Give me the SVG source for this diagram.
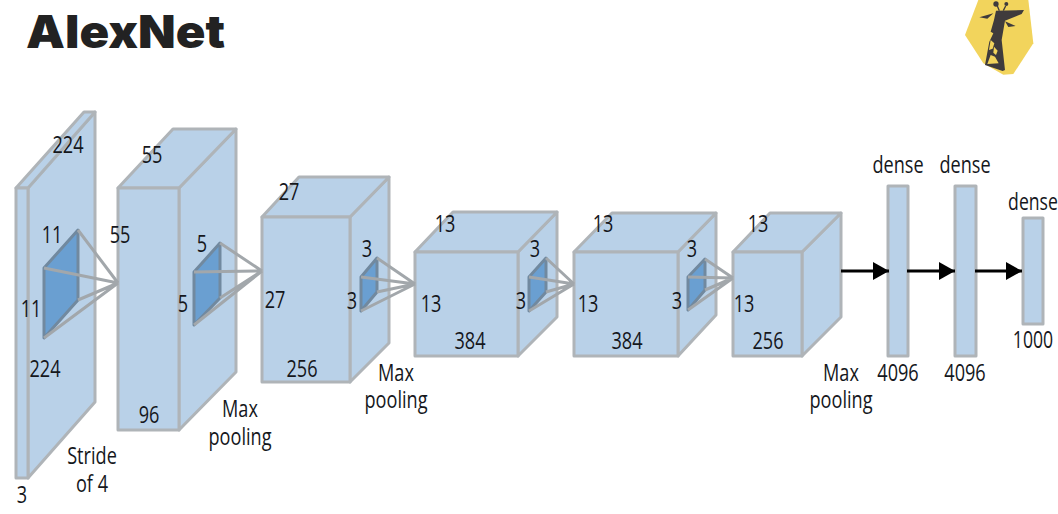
<svg xmlns="http://www.w3.org/2000/svg" width="1058" height="514" viewBox="0 0 1058 514">
<style>
text{font-family:"Open Sans","Noto Sans","Liberation Sans",sans-serif;font-size:24.5px;fill:#15171c;text-anchor:middle}
#title{font-family:Inter,"Liberation Sans",sans-serif;font-size:46px;font-weight:900;fill:#222;text-anchor:start}
.f,.t,.s{fill:#b9d1e8;stroke:#afb4b8;stroke-width:3;stroke-linejoin:round}
.k{fill:#6a9fd1;stroke:#71899f;stroke-width:3;stroke-linejoin:round}
.r{stroke:#a2a7ab;stroke-width:3;fill:none}
.a{stroke:#000;stroke-width:3;fill:none;marker-end:url(#h)}
</style>
<defs>
<marker id="h" markerUnits="userSpaceOnUse" markerWidth="17" markerHeight="20" refX="16" refY="10" orient="auto"><path d="M0 1L16 10L0 19Z" fill="#000"/></marker>
</defs>
<rect width="1058" height="514" fill="#fff"/>
<text id="title" x="26" y="48" textLength="199" lengthAdjust="spacingAndGlyphs">AlexNet</text>
<g id="logo" transform="translate(950 0) scale(.3333)">
<path d="M85 0L235 0L250 130L190 222L160 224L100 190L45 105Z" fill="#f2d45c"/>
<path d="M138 32L222 30L215 42L165 62L155 120L165 210L158 213L105 195L118 125L130 100L122 95L132 60Z" fill="#3f3b3c"/>
<path d="M88 52L130 40L112 56ZM165 64L197 78L175 81Z" fill="#3f3b3c"/>
<circle cx="138" cy="12" r="8" fill="#3f3b3c"/><circle cx="169" cy="12" r="6" fill="#3f3b3c"/>
<path d="M142 18L148 32M167 18L160 32" stroke="#3f3b3c" stroke-width="4"/>
<path d="M122 120L133 130L128 146L117 150ZM132 140L143 152L138 165L130 158ZM122 165L135 170L146 190L112 192Z" fill="#f2d45c"/>
</g>
<g id="layer1">
<path class="s" d="M28 188L95 112V402L28 478Z"/>
<path class="t" d="M16 188L84 112H95L28 188Z"/>
<path d="M28 188L92 116" stroke="#a9b2b8" stroke-width="1.5" fill="none"/>
<rect class="f" x="16" y="188" width="12" height="290"/>
<path class="k" d="M44 268L78 230V300L44 338Z"/>
<text transform="translate(68 153) scale(.74 1)">224</text>
<text transform="translate(52 243) scale(.74 1)">11</text>
<text transform="translate(31 317) scale(.74 1)">11</text>
<text transform="translate(45 377) scale(.74 1)">224</text>
<text transform="translate(22 503) scale(.74 1)">3</text>
<text transform="translate(92 464) scale(.74 1)"><tspan x="0">Stride</tspan><tspan x="0" dy="28">of 4</tspan></text>
</g>
<g id="layer2">
<path class="s" d="M179 188L236 129V372L179 430Z"/>
<path class="t" d="M118 188L173 129H236L179 188Z"/>
<rect class="f" x="118" y="188" width="61" height="242"/>
<path class="k" d="M194 272L220 243V298L194 325Z"/>
<text transform="translate(152 163) scale(.74 1)">55</text>
<text transform="translate(120 243) scale(.74 1)">55</text>
<text transform="translate(149 423) scale(.74 1)">96</text>
<text transform="translate(202 252) scale(.74 1)">5</text>
<text transform="translate(183 312) scale(.74 1)">5</text>
<text transform="translate(240 417) scale(.74 1)"><tspan x="0">Max</tspan><tspan x="0" dy="28">pooling</tspan></text>
</g>
<g id="layer3">
<path class="s" d="M350 217L389 177V343L350 382Z"/>
<path class="t" d="M262 217L299 177H389L350 217Z"/>
<rect class="f" x="262" y="217" width="88" height="165"/>
<path class="k" d="M361 277L377 258V292L361 311Z"/>
<text transform="translate(289 200) scale(.74 1)">27</text>
<text transform="translate(275 308) scale(.74 1)">27</text>
<text transform="translate(302 377) scale(.74 1)">256</text>
<text transform="translate(367 257) scale(.74 1)">3</text>
<text transform="translate(352 309) scale(.74 1)">3</text>
<text transform="translate(396 381) scale(.74 1)"><tspan x="0">Max</tspan><tspan x="0" dy="27">pooling</tspan></text>
</g>
<g id="layer4">
<path class="s" d="M518 252L557 212V317L518 356Z"/>
<path class="t" d="M415 252L453 212H557L518 252Z"/>
<rect class="f" x="415" y="252" width="103" height="104"/>
<path class="k" d="M529 277L546 258V292L529 311Z"/>
<text transform="translate(445 232) scale(.74 1)">13</text>
<text transform="translate(431 312) scale(.74 1)">13</text>
<text transform="translate(470 349) scale(.74 1)">384</text>
<text transform="translate(535 257) scale(.74 1)">3</text>
<text transform="translate(521 309) scale(.74 1)">3</text>
</g>
<g id="layer5">
<path class="s" d="M678 252L716 213V315L678 356Z"/>
<path class="t" d="M574 252L612 213H716L678 252Z"/>
<rect class="f" x="574" y="252" width="104" height="104"/>
<path class="k" d="M688 277L705 259V290L688 310Z"/>
<text transform="translate(603 232) scale(.74 1)">13</text>
<text transform="translate(588 312) scale(.74 1)">13</text>
<text transform="translate(627 349) scale(.74 1)">384</text>
<text transform="translate(692 257) scale(.74 1)">3</text>
<text transform="translate(677 309) scale(.74 1)">3</text>
</g>
<g id="layer6">
<path class="s" d="M802 252L841 213V317L802 356Z"/>
<path class="t" d="M733 252L770 213H841L802 252Z"/>
<rect class="f" x="733" y="252" width="69" height="104"/>
<text transform="translate(758 232) scale(.74 1)">13</text>
<text transform="translate(744 312) scale(.74 1)">13</text>
<text transform="translate(768 349) scale(.74 1)">256</text>
<text transform="translate(841 381) scale(.74 1)"><tspan x="0">Max</tspan><tspan x="0" dy="27">pooling</tspan></text>
</g>
<g id="dense1">
<rect class="f" x="888" y="186" width="20" height="170"/>
<text transform="translate(898 173) scale(.74 1)">dense</text>
<text transform="translate(898 381) scale(.74 1)">4096</text>
</g>
<g id="dense2">
<rect class="f" x="955" y="186" width="21" height="170"/>
<text transform="translate(965 173) scale(.74 1)">dense</text>
<text transform="translate(965 381) scale(.74 1)">4096</text>
</g>
<g id="dense3">
<rect class="f" x="1023" y="218" width="20" height="106"/>
<text transform="translate(1033 210) scale(.72 1)">dense</text>
<text transform="translate(1033 348) scale(.72 1)">1000</text>
</g>
<g id="connectors">
<path class="r" d="M78 230L118 283M44 268L118 283M78 300L118 283M44 338L118 283"/>
<path class="r" d="M220 243L262 271M194 272L262 271M220 298L262 271M194 325L262 271"/>
<path class="r" d="M377 258L415 284M361 277L415 284M377 292L415 284M361 311L415 284"/>
<path class="r" d="M546 258L574 284M529 277L574 284M546 292L574 284M529 311L574 284"/>
<path class="r" d="M705 259L733 278M688 277L733 278M705 290L733 278M688 310L733 278"/>
<path class="a" d="M841 271H889"/>
<path class="a" d="M907 271H955"/>
<path class="a" d="M975 271H1022"/>
</g>
</svg>
